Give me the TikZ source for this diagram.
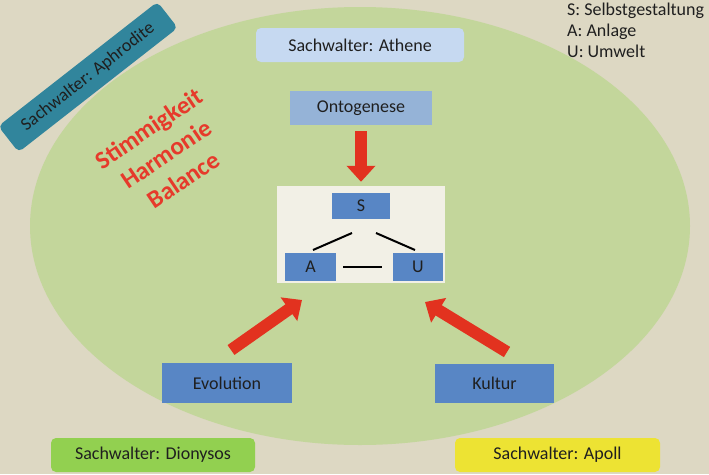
\documentclass[tikz,border=0pt]{standalone}
\usepackage{fontspec}
\setmainfont{Carlito}
\usetikzlibrary{arrows.meta,calc}
\definecolor{bgtan}{HTML}{DDD8C3}
\definecolor{ellgreen}{HTML}{C3D69B}
\definecolor{boxblue}{HTML}{5886C5}
\definecolor{ontoblue}{HTML}{95B3D7}
\definecolor{lightblue}{HTML}{C6D9F1}
\definecolor{teal}{HTML}{31859C}
\definecolor{dgreen}{HTML}{92D050}
\definecolor{yel}{HTML}{EDE333}
\definecolor{innerbg}{HTML}{F2F0E6}
\definecolor{arrred}{HTML}{E2321F}
\definecolor{txtred}{HTML}{E63A2B}
\tikzset{
  base/.style={inner sep=0pt, text=black!88, font=\fontsize{18}{21}\selectfont},
  bluebox/.style={base, fill=boxblue},
  roundbox/.style={base, rounded corners=5pt},
  fat/.style={arrred, line width=12pt, -{Triangle[width=28pt,length=16pt]}},
  link/.style={black, line width=2pt}
}
\begin{document}
\begin{tikzpicture}[x=1pt,y=-1pt]
\useasboundingbox (0,0) rectangle (709,474);
\fill[bgtan] (0,0) rectangle (709,474);
\fill[ellgreen] (360,226) ellipse [x radius=330, y radius=219];

% Aphrodite
\node[roundbox, fill=teal, minimum width=202pt, minimum height=33pt, rotate=38] (aph) at (88,77) {Sachwalter: Aphrodite};

% red words
\node[rotate=34, align=center, text=txtred, font=\bfseries\fontsize{25}{31}\selectfont, inner sep=0pt] (harm) at (166,154) {Stimmigkeit\\Harmonie\\Balance};

% legend
\node[base, anchor=north west, align=left] (leg) at (567,3) {S: Selbstgestaltung\\A: Anlage\\U: Umwelt};

% top
\node[roundbox, fill=lightblue, minimum width=208pt, minimum height=34pt] (ath) at (360,45) {Sachwalter: Athene};
\node[base, fill=ontoblue, minimum width=142pt, minimum height=34pt] (onto) at (361,108) {Ontogenese};

% inner box
\node[fill=innerbg, minimum width=168pt, minimum height=97pt, inner sep=0pt] (inner) at (361,234.5) {};
\node[bluebox, minimum width=58pt, minimum height=26pt] (S) at (361,206) {S};
\node[bluebox, minimum width=51pt, minimum height=28pt] (A) at (310.5,267) {A};
\node[bluebox, minimum width=50pt, minimum height=28pt] (U) at (418,267) {U};
\coordinate (sa1) at (313,250); \coordinate (sa2) at (352,233);
\coordinate (su1) at (376,233); \coordinate (su2) at (415,250);
\coordinate (au1) at (343,267); \coordinate (au2) at (382,267);
\draw[link] (sa1) -- (sa2);
\draw[link] (su1) -- (su2);
\draw[link] (au1) -- (au2);

% bottom boxes
\node[bluebox, minimum width=130pt, minimum height=40pt] (evo) at (227,383) {Evolution};
\node[bluebox, minimum width=119pt, minimum height=39pt] (kul) at (494.5,383.5) {Kultur};
\node[roundbox, fill=dgreen, minimum width=204pt, minimum height=34pt] (dio) at (153,455) {Sachwalter: Dionysos};
\node[roundbox, fill=yel, minimum width=205pt, minimum height=34pt] (apo) at (557.5,455) {Sachwalter: Apoll};

% arrows
\draw[fat, shorten <=6pt, shorten >=4pt] (onto.south) -- (inner.north);
\coordinate (l1) at (231,350); \coordinate (l2) at (302,300);
\coordinate (r1) at (507,352); \coordinate (r2) at (425,302);
\draw[fat] (l1) -- (l2);
\draw[fat] (r1) -- (r2);
\end{tikzpicture}
\end{document}
